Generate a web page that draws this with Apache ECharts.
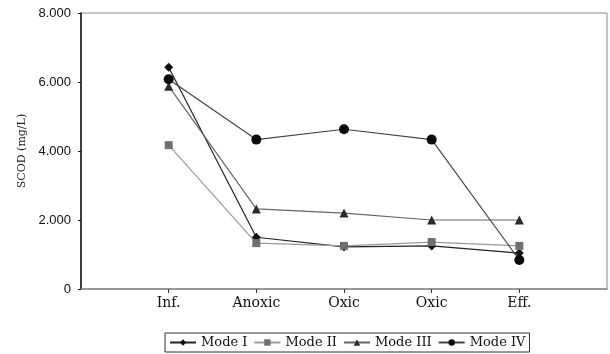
<!DOCTYPE html>
<html><head><meta charset="utf-8">
<script src="https://cdn.jsdelivr.net/npm/echarts@6/dist/echarts.min.js"></script>
<style>html,body{margin:0;padding:0;background:#fff}#c{width:610px;height:354px}</style>
</head><body><div id="c"></div>
<script>
const categories = ['', 'Inf.', 'Anoxic', 'Oxic', 'Oxic', 'Eff.', ''];
const modeI   = [null, 6430, 1500, 1220, 1250, 1040, null];
const modeII  = [null, 4170, 1330, 1250, 1360, 1250, null];
const modeIII = [null, 5880, 2320, 2200, 2000, 2000, null];
const modeIV  = [null, 6080, 4330, 4630, 4330, 840, null];
const yTicks = [0, 2000, 4000, 6000, 8000];

const chart = echarts.init(document.getElementById('c'));
function s(name, data, symbol, color, lineColor, size){
  return {name, type:'line', data, symbol, symbolSize:size, showSymbol:true,
    itemStyle:{color, borderWidth:0}, lineStyle:{color:lineColor, width:1.2},
    connectNulls:false, animation:false};
}
chart.setOption({
  animation:false,
  grid:{left:81, right:2, top:13, bottom:65, show:true, borderColor:'#8a8a8a', borderWidth:1},
  xAxis:{type:'category', data:categories, boundaryGap:false,
    axisLine:{lineStyle:{color:'#8a8a8a', width:1.5}},
    axisTick:{show:true, inside:false, length:4, lineStyle:{color:'#333'},
      interval:(i)=> i>0 && i<categories.length-1},
    axisLabel:{color:'#111', fontFamily:'DejaVu Serif', fontSize:14, margin:7, interval:0},
    splitLine:{show:false}},
  yAxis:{type:'value', min:0, max:8000, interval:2000,
    name:'SCOD (mg/L)', nameLocation:'middle', nameGap:52, nameRotate:90,
    nameTextStyle:{color:'#222', fontFamily:'DejaVu Serif', fontSize:11},
    axisLine:{show:true, lineStyle:{color:'#111', width:1.5}},
    axisTick:{show:true, length:3, lineStyle:{color:'#111'}},
    axisLabel:{color:'#111', fontFamily:'Liberation Sans', fontSize:13, margin:10,
      formatter:(v)=> v===0 ? '0' : (v/1000).toFixed(3)},
    splitLine:{show:false}},
  legend:{bottom:2, left:165, orient:'horizontal',
    data:['Mode I','Mode II','Mode III','Mode IV'],
    borderColor:'#333', borderWidth:1, padding:[3,4], itemGap:6, itemWidth:26, itemHeight:8,
    textStyle:{color:'#111', fontFamily:'DejaVu Serif', fontSize:13}},
  series:[
    s('Mode I', modeI, 'diamond', '#111', '#222', 9),
    s('Mode II', modeII, 'rect', '#6f6f6f', '#9a9a9a', 8),
    s('Mode III', modeIII, 'triangle', '#2a2a2a', '#666', 9),
    s('Mode IV', modeIV, 'circle', '#0a0a0a', '#444', 10)
  ]
});
</script></body></html>
